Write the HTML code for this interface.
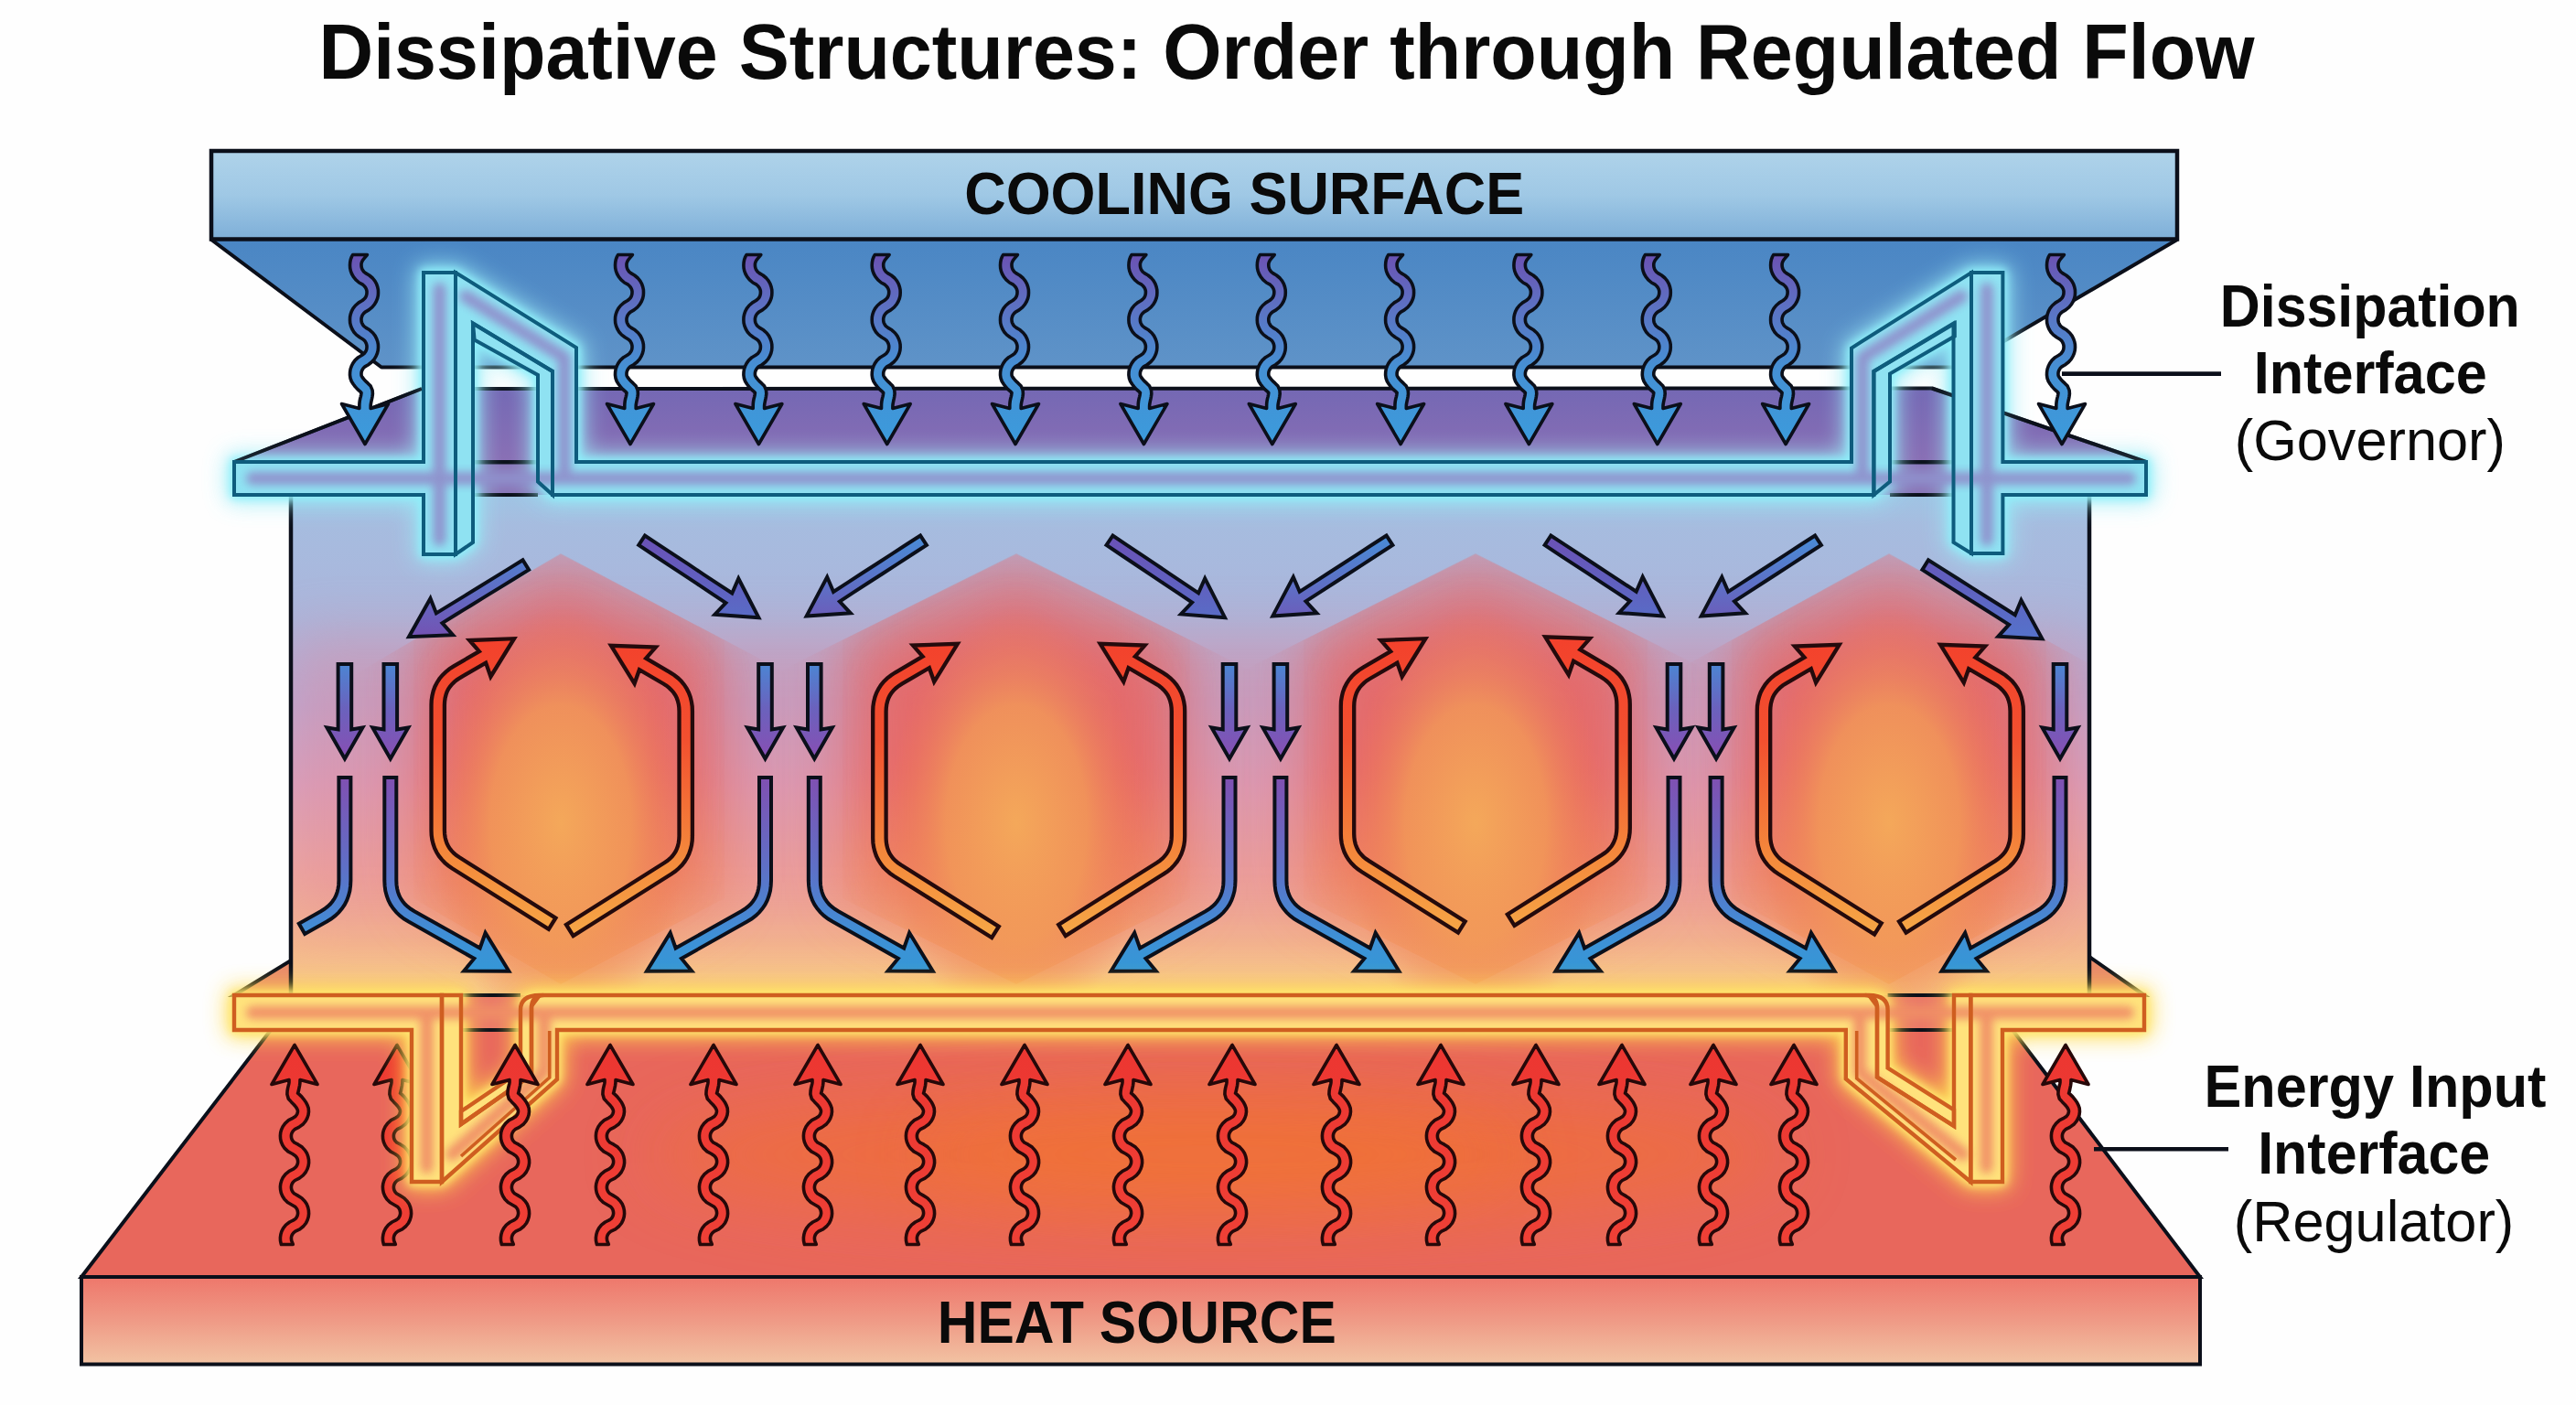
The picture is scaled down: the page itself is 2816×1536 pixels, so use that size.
<!DOCTYPE html>
<html><head><meta charset="utf-8"><title>Dissipative Structures</title>
<style>html,body{margin:0;padding:0;background:#fefefe}svg{display:block}text{font-family:"Liberation Sans",sans-serif;fill:#0a0a0a}</style></head>
<body><svg width="2816" height="1536" viewBox="0 0 2816 1536">
<defs>
<linearGradient id="gSlab" x1="0" y1="0" x2="0" y2="1"><stop offset="0" stop-color="#afd3ea"/><stop offset=".5" stop-color="#9fc8e5"/><stop offset="1" stop-color="#7eafd8"/></linearGradient>
<linearGradient id="gUnder" x1="0" y1="0" x2="0" y2="1"><stop offset="0" stop-color="#4a86c4"/><stop offset="1" stop-color="#5f93c8"/></linearGradient>
<linearGradient id="gPurp" x1="0" y1="0" x2="0" y2="1"><stop offset="0" stop-color="#7468b4"/><stop offset="1" stop-color="#8a6eb4"/></linearGradient>
<linearGradient id="gBody" x1="0" y1="541" x2="0" y2="1088" gradientUnits="userSpaceOnUse">
 <stop offset="0" stop-color="#9fc4e4"/><stop offset=".06" stop-color="#a6bcdf"/><stop offset=".25" stop-color="#abb5db"/><stop offset=".42" stop-color="#bba7d2"/><stop offset=".58" stop-color="#d6a2c0"/><stop offset=".75" stop-color="#eaa8a4"/><stop offset=".9" stop-color="#f4b88e"/><stop offset="1" stop-color="#f8cc86"/></linearGradient>
<linearGradient id="gHeatTop" x1="0" y1="0" x2="1" y2="0"><stop offset="0" stop-color="#e8685e"/><stop offset=".3" stop-color="#eb6650"/><stop offset=".55" stop-color="#ee6943"/><stop offset=".8" stop-color="#ea6652"/><stop offset="1" stop-color="#e8685e"/></linearGradient>
<linearGradient id="gHeatFront" x1="0" y1="0" x2="0" y2="1"><stop offset="0" stop-color="#ee776b"/><stop offset=".5" stop-color="#ef9a86"/><stop offset="1" stop-color="#f2c3a3"/></linearGradient>
<linearGradient id="gCool" x1="0" y1="278" x2="0" y2="486" gradientUnits="userSpaceOnUse"><stop offset="0" stop-color="#6b52b3"/><stop offset=".3" stop-color="#5b74c4"/><stop offset=".6" stop-color="#4590d4"/><stop offset="1" stop-color="#3b9bdc"/></linearGradient>
<linearGradient id="gHot" x1="0" y1="1140" x2="0" y2="1361" gradientUnits="userSpaceOnUse"><stop offset="0" stop-color="#ec3631"/><stop offset="1" stop-color="#ef4036"/></linearGradient>
<linearGradient id="gVert" x1="0" y1="725" x2="0" y2="833" gradientUnits="userSpaceOnUse"><stop offset="0" stop-color="#4b86d4"/><stop offset=".45" stop-color="#6a62bd"/><stop offset="1" stop-color="#8a4db3"/></linearGradient>
<linearGradient id="gLow" x1="0" y1="850" x2="0" y2="1064" gradientUnits="userSpaceOnUse"><stop offset="0" stop-color="#8050b2"/><stop offset=".45" stop-color="#5f6fc6"/><stop offset=".8" stop-color="#3f8fd6"/><stop offset="1" stop-color="#3498d6"/></linearGradient>
<linearGradient id="gRed" x1="0" y1="696" x2="0" y2="1020" gradientUnits="userSpaceOnUse"><stop offset="0" stop-color="#f3412c"/><stop offset=".35" stop-color="#f2502f"/><stop offset=".75" stop-color="#f48a3c"/><stop offset="1" stop-color="#f6a646"/></linearGradient>
<linearGradient id="gDiagL" x1="0" y1="590" x2="0" y2="700" gradientUnits="userSpaceOnUse"><stop offset="0" stop-color="#4a8ad6"/><stop offset="1" stop-color="#7550b2"/></linearGradient>
<linearGradient id="gDiagR" x1="0" y1="590" x2="0" y2="700" gradientUnits="userSpaceOnUse"><stop offset="0" stop-color="#6a52b6"/><stop offset="1" stop-color="#5473cb"/></linearGradient>
<linearGradient id="gHex" x1="0" y1="606" x2="0" y2="1076" gradientUnits="userSpaceOnUse"><stop offset="0" stop-color="#e47c8a" stop-opacity=".52"/><stop offset=".2" stop-color="#e66a66" stop-opacity=".6"/><stop offset=".5" stop-color="#ea655c" stop-opacity=".6"/><stop offset=".8" stop-color="#f08050" stop-opacity=".7"/><stop offset="1" stop-color="#f6a04e" stop-opacity=".95"/></linearGradient>
<linearGradient id="gHexG" x1="0" y1="606" x2="0" y2="1076" gradientUnits="userSpaceOnUse"><stop offset="0" stop-color="#e4686c"/><stop offset=".5" stop-color="#ea625a"/><stop offset=".75" stop-color="#f07e56"/><stop offset="1" stop-color="#f49a58"/></linearGradient>
<radialGradient id="gCore" cx=".5" cy=".5" r=".5"><stop offset="0" stop-color="#f4a85a"/><stop offset=".55" stop-color="#f29a58" stop-opacity=".8"/><stop offset="1" stop-color="#ee7a5c" stop-opacity="0"/></radialGradient>
<filter id="b2" x="-10%" y="-10%" width="120%" height="120%"><feGaussianBlur stdDeviation="1.6"/></filter>
<filter id="b3" x="-20%" y="-20%" width="140%" height="140%"><feGaussianBlur stdDeviation="3"/></filter>
<filter id="b5" x="-20%" y="-50%" width="140%" height="200%"><feGaussianBlur stdDeviation="5"/></filter>
<filter id="b8" x="-20%" y="-20%" width="140%" height="140%"><feGaussianBlur stdDeviation="8"/></filter>
<filter id="b12" x="-20%" y="-50%" width="140%" height="200%"><feGaussianBlur stdDeviation="12"/></filter>
<filter id="b30" x="-30%" y="-30%" width="160%" height="160%"><feGaussianBlur stdDeviation="30"/></filter>
<filter id="b40" x="-30%" y="-150%" width="160%" height="400%"><feGaussianBlur stdDeviation="40"/></filter>
<filter id="b20" x="-30%" y="-30%" width="160%" height="160%"><feGaussianBlur stdDeviation="20"/></filter>
<clipPath id="cBody"><rect x="318" y="541" width="1966" height="547"/></clipPath>
<clipPath id="cHeat"><path d="M296,1126 L2200,1126 L2405,1396 L89,1396Z"/></clipPath>
<clipPath id="r613"><path d="M613,605 L862,736.8 L862,1095 L382,1095 L382,740.9Z"/></clipPath>
<linearGradient id="gm613" x1="452" y1="0" x2="792" y2="0" gradientUnits="userSpaceOnUse"><stop offset="0" stop-color="#fff" stop-opacity=".15"/><stop offset=".22" stop-color="#fff" stop-opacity="1"/><stop offset=".78" stop-color="#fff" stop-opacity="1"/><stop offset="1" stop-color="#fff" stop-opacity=".15"/></linearGradient><mask id="m613" maskUnits="userSpaceOnUse" x="442" y="590" width="360" height="500"><rect x="442" y="590" width="360" height="500" fill="url(#gm613)"/></mask>
<clipPath id="r1111"><path d="M1111,605 L1371,734.6 L1371,1095 L851,1095 L851,734.6Z"/></clipPath>
<linearGradient id="gm1111" x1="921" y1="0" x2="1301" y2="0" gradientUnits="userSpaceOnUse"><stop offset="0" stop-color="#fff" stop-opacity=".15"/><stop offset=".22" stop-color="#fff" stop-opacity="1"/><stop offset=".78" stop-color="#fff" stop-opacity="1"/><stop offset="1" stop-color="#fff" stop-opacity=".15"/></linearGradient><mask id="m1111" maskUnits="userSpaceOnUse" x="911" y="590" width="400" height="500"><rect x="911" y="590" width="400" height="500" fill="url(#gm1111)"/></mask>
<clipPath id="r1613"><path d="M1613,605 L1871,735 L1871,1095 L1355,1095 L1355,735Z"/></clipPath>
<linearGradient id="gm1613" x1="1425" y1="0" x2="1801" y2="0" gradientUnits="userSpaceOnUse"><stop offset="0" stop-color="#fff" stop-opacity=".15"/><stop offset=".22" stop-color="#fff" stop-opacity="1"/><stop offset=".78" stop-color="#fff" stop-opacity="1"/><stop offset="1" stop-color="#fff" stop-opacity=".15"/></linearGradient><mask id="m1613" maskUnits="userSpaceOnUse" x="1415" y="590" width="396" height="500"><rect x="1415" y="590" width="396" height="500" fill="url(#gm1613)"/></mask>
<clipPath id="r2065"><path d="M2065,605 L2307,738.3 L2307,1095 L1823,1095 L1823,738.3Z"/></clipPath>
<linearGradient id="gm2065" x1="1893" y1="0" x2="2237" y2="0" gradientUnits="userSpaceOnUse"><stop offset="0" stop-color="#fff" stop-opacity=".15"/><stop offset=".22" stop-color="#fff" stop-opacity="1"/><stop offset=".78" stop-color="#fff" stop-opacity="1"/><stop offset="1" stop-color="#fff" stop-opacity=".15"/></linearGradient><mask id="m2065" maskUnits="userSpaceOnUse" x="1883" y="590" width="364" height="500"><rect x="1883" y="590" width="364" height="500" fill="url(#gm2065)"/></mask>
<path id="wc" d="M-11.4,278.5 L-12.5,280.5 L-13.7,283.7 L-14.3,286.8 L-14.5,290 L-14.3,293.2 L-13.6,296.4 L-12.4,299.5 L-10.6,302.7 L-8,305.9 L-4.4,309 L-0.4,311.2 L1.3,312.8 L2.4,314.2 L3.2,315.6 L3.7,317 L4,318.4 L4,319.8 L3.9,321.3 L3.6,322.7 L3.1,324.1 L2.3,325.5 L1.1,326.9 L-0.9,328.5 L-4.9,330.9 L-8.5,334 L-11,337.2 L-12.7,340.4 L-13.8,343.6 L-14.4,346.7 L-14.5,349.9 L-14.3,353.1 L-13.5,356.3 L-12.2,359.5 L-10.4,362.7 L-7.6,365.9 L-3.8,368.8 L-0.1,371 L1.5,372.4 L2.5,373.8 L3.3,375.3 L3.7,376.7 L4,378.1 L4,379.5 L3.9,380.9 L3.6,382.4 L3,383.8 L2.1,385.2 L1,386.6 L-1.3,388.3 L-5.4,390.7 L-8.9,393.9 L-11.2,397.1 L-12.8,400.3 L-13.9,403.5 L-14.4,406.7 L-14.5,410 L-14,413.5 L-12.7,417 L-10.8,420 L-8.6,422.9 L-6.1,425.6 L-3.5,427.9 L-2,429.3 L-2.1,429.4 L-2.1,430.1 L-2.3,431.6 L-2.7,433.6 L-3.3,435.9 L-3.8,438.5 L-4.1,441.3 L-4.2,444 L-4.2,446.4 L-4.2,446.5 L-23.5,441.5 L2,485.5 L27.5,441.5 L8.2,446.5 L8.2,446.4 L8.2,444.2 L8.3,442.3 L8.6,440.5 L9,438.5 L9.5,436.2 L10,433.6 L10.4,430.5 L10.1,426.6 L8.2,422.1 L5.1,418.9 L2.6,416.6 L0.9,414.7 L-0.5,413 L-1.5,411.4 L-1.9,410.3 L-2,409.2 L-2,407.9 L-1.8,406.5 L-1.3,405.1 L-0.6,403.7 L0.4,402.3 L1.9,400.9 L5.6,398.7 L9.4,395.8 L12.2,392.6 L14.1,389.4 L15.4,386.2 L16.2,383.1 L16.5,379.9 L16.4,376.7 L15.8,373.5 L14.7,370.3 L13.1,367.2 L10.7,364 L7.2,360.8 L3.1,358.4 L0.9,356.7 L-0.2,355.3 L-1,353.9 L-1.6,352.5 L-1.9,351.1 L-2,349.7 L-2,348.3 L-1.7,346.8 L-1.2,345.4 L-0.5,344 L0.6,342.6 L2.2,341.1 L6.1,338.9 L9.8,335.9 L12.5,332.7 L14.3,329.5 L15.6,326.3 L16.3,323.1 L16.5,320 L16.4,316.8 L15.7,313.6 L14.6,310.4 L12.8,307.2 L10.3,304 L6.7,301 L2.7,298.6 L0.8,297.1 L-0.3,295.7 L-1.1,294.3 L-1.6,292.8 L-1.9,291.4 L-2,290 L-2,288.6 L-1.7,287.1 L-1.1,285.7 L-0.4,284.3 L1.2,282.4 L4.4,278.5Z" fill="url(#gCool)" stroke="#0b0f1a" stroke-width="3.6" stroke-linejoin="round"/>
<path id="wh" d="M-0.7,1360.5 L-1.5,1358.4 L-2.3,1356.4 L-2.5,1355 L-2.6,1353.5 L-2.4,1352.1 L-2,1350.7 L-1.2,1349.2 L-0.2,1347.8 L1.8,1346.2 L6.7,1343.8 L10.8,1340.5 L13.5,1337.1 L15.2,1333.6 L16.2,1330.2 L16.6,1326.8 L16.4,1323.4 L15.7,1320 L14.4,1316.6 L12.2,1313.2 L8.8,1309.7 L4.2,1306.9 L0.5,1304.8 L-0.8,1303.4 L-1.6,1302 L-2.2,1300.6 L-2.5,1299.2 L-2.6,1297.7 L-2.4,1296.3 L-2,1294.8 L-1.3,1293.4 L-0.3,1292 L1.4,1290.5 L6.2,1288.1 L10.4,1284.9 L13.2,1281.5 L15,1278 L16.1,1274.6 L16.6,1271.2 L16.5,1267.8 L15.8,1264.4 L14.6,1261 L12.5,1257.6 L9.3,1254.1 L4.9,1251.2 L0.7,1249 L-0.6,1247.6 L-1.6,1246.2 L-2.2,1244.8 L-2.5,1243.3 L-2.6,1241.9 L-2.5,1240.4 L-2.1,1239 L-1.4,1237.6 L-0.5,1236.2 L1.1,1234.7 L5.7,1232.4 L10,1229.3 L12.9,1225.9 L14.8,1222.5 L16,1219 L16.5,1215.3 L16.2,1211.4 L14.9,1207.9 L13.2,1204.7 L11.1,1201.8 L8.7,1198.9 L6.1,1196.4 L4.6,1195.1 L4.8,1195.2 L4.9,1194.2 L5.4,1192.3 L5.9,1189.9 L6.5,1187.1 L6.9,1184.2 L7,1181.4 L7,1180.5 L26,1185.5 L1,1142.5 L-24,1185.5 L-5,1180.5 L-5,1181.1 L-5,1183.2 L-5.3,1185.1 L-5.8,1187.2 L-6.4,1189.6 L-6.9,1192.6 L-7.1,1196.3 L-5.7,1201.3 L-2.4,1204.9 L-0.1,1207.2 L1.7,1209.2 L3.1,1211.1 L4,1212.8 L4.4,1214 L4.5,1215 L4.3,1216.2 L3.9,1217.6 L3.1,1219 L2,1220.4 L-0.5,1222.1 L-5.5,1224.7 L-9.3,1228.1 L-11.8,1231.5 L-13.4,1234.9 L-14.3,1238.3 L-14.6,1241.7 L-14.4,1245.1 L-13.6,1248.5 L-12.1,1252 L-9.8,1255.4 L-6.1,1258.9 L-1.2,1261.5 L1.7,1263.4 L2.9,1264.8 L3.8,1266.2 L4.3,1267.6 L4.6,1269.1 L4.6,1270.5 L4.4,1272 L3.9,1273.4 L3.2,1274.8 L2.1,1276.2 L0,1277.9 L-4.9,1280.3 L-8.9,1283.7 L-11.6,1287.1 L-13.2,1290.5 L-14.2,1293.9 L-14.6,1297.3 L-14.4,1300.7 L-13.7,1304.1 L-12.3,1307.5 L-10.1,1311 L-6.6,1314.5 L-1.9,1317.2 L1.6,1319.3 L2.8,1320.6 L3.7,1322 L4.2,1323.5 L4.5,1324.9 L4.6,1326.4 L4.4,1327.8 L4,1329.2 L3.3,1330.7 L2.3,1332.1 L0.4,1333.6 L-4.4,1336 L-8.5,1339.2 L-11.3,1342.7 L-13.1,1346.1 L-14.1,1349.5 L-14.6,1352.9 L-14.5,1356.3 L-13.8,1359.7 L-13.5,1360.5Z" fill="url(#gHot)" stroke="#260809" stroke-width="3.6" stroke-linejoin="round"/>
</defs>
<rect width="2816" height="1536" fill="#fefefe"/>
<path d="M296,1126 L2200,1126 L2405,1396 L89,1396Z" fill="#e8675c"/>
<g clip-path="url(#cHeat)"><ellipse cx="1330" cy="1262" rx="620" ry="70" fill="#f2722f" opacity=".6" filter="url(#b40)"/><ellipse cx="1330" cy="1262" rx="330" ry="50" fill="#f47a2c" opacity=".35" filter="url(#b40)"/></g>
<path d="M296,1126 L2200,1126 L2405,1396 L89,1396Z" fill="none" stroke="#0b0f1a" stroke-width="4" stroke-linejoin="miter"/>
<rect x="89" y="1396" width="2316" height="95.5" fill="url(#gHeatFront)" stroke="#0b0f1a" stroke-width="4"/>
<path d="M256,1088 L318,1050 L318,1088Z" fill="#e98a6a" stroke="#0b0f1a" stroke-width="4"/>
<path d="M2344,1088 L2284,1046 L2284,1088Z" fill="#e98a6a" stroke="#0b0f1a" stroke-width="4"/>
<path d="M231,262 L2380,262 L2142,401.5 L417,401.5Z" fill="url(#gUnder)"/>
<path d="M231,262L417,401.5H2142L2380,262" fill="none" stroke="#0b0f1a" stroke-width="4" stroke-linejoin="bevel"/>
<rect x="231" y="165" width="2149" height="96.5" fill="url(#gSlab)" stroke="#0b0f1a" stroke-width="4.5"/>
<path d="M256,505 L461,425 L2112,424.5 L2346,505Z" fill="url(#gPurp)" stroke="#0b0f1a" stroke-width="4"/>
<rect x="318" y="541" width="1966" height="547" fill="url(#gBody)"/>
<g clip-path="url(#cBody)">
<rect x="318" y="690" width="1966" height="330" fill="#e8808a" opacity=".30" filter="url(#b30)"/>
<g clip-path="url(#r613)"><path d="M613,606 L792,700 L792,982 L613,1076 L452,982 L452,700Z" fill="url(#gHexG)" opacity=".62" filter="url(#b30)"/></g>
<g mask="url(#m613)"><path d="M613,606 L792,700 L792,982 L613,1076 L452,982 L452,700Z" fill="url(#gHex)" opacity=".5"/></g>
<path d="M613,666 L747,735 L747,962 L613,1036 L497,962 L497,735Z" fill="url(#gHexG)" opacity=".55" filter="url(#b20)"/>
<ellipse cx="613" cy="900" rx="140" ry="235" fill="url(#gCore)"/>
<g clip-path="url(#r1111)"><path d="M1111,606 L1301,700 L1301,982 L1111,1076 L921,982 L921,700Z" fill="url(#gHexG)" opacity=".62" filter="url(#b30)"/></g>
<g mask="url(#m1111)"><path d="M1111,606 L1301,700 L1301,982 L1111,1076 L921,982 L921,700Z" fill="url(#gHex)" opacity=".5"/></g>
<path d="M1111,666 L1256,735 L1256,962 L1111,1036 L966,962 L966,735Z" fill="url(#gHexG)" opacity=".55" filter="url(#b20)"/>
<ellipse cx="1111" cy="900" rx="140" ry="235" fill="url(#gCore)"/>
<g clip-path="url(#r1613)"><path d="M1613,606 L1801,700 L1801,982 L1613,1076 L1425,982 L1425,700Z" fill="url(#gHexG)" opacity=".62" filter="url(#b30)"/></g>
<g mask="url(#m1613)"><path d="M1613,606 L1801,700 L1801,982 L1613,1076 L1425,982 L1425,700Z" fill="url(#gHex)" opacity=".5"/></g>
<path d="M1613,666 L1756,735 L1756,962 L1613,1036 L1470,962 L1470,735Z" fill="url(#gHexG)" opacity=".55" filter="url(#b20)"/>
<ellipse cx="1613" cy="900" rx="140" ry="235" fill="url(#gCore)"/>
<g clip-path="url(#r2065)"><path d="M2065,606 L2237,700 L2237,982 L2065,1076 L1893,982 L1893,700Z" fill="url(#gHexG)" opacity=".62" filter="url(#b30)"/></g>
<g mask="url(#m2065)"><path d="M2065,606 L2237,700 L2237,982 L2065,1076 L1893,982 L1893,700Z" fill="url(#gHex)" opacity=".5"/></g>
<path d="M2065,666 L2192,735 L2192,962 L2065,1036 L1938,962 L1938,735Z" fill="url(#gHexG)" opacity=".55" filter="url(#b20)"/>
<ellipse cx="2065" cy="900" rx="140" ry="235" fill="url(#gCore)"/>
</g>
<path d="M318,541V1088M2284,541V1088" stroke="#0b0f1a" stroke-width="4.5" fill="none"/>
<g clip-path="url(#cBody)">
<path d="M369.6,726 L369.6,738.9 L369.6,751.9 L369.6,764.8 L369.6,777.8 L369.6,790.7 L369.6,797.5 L357.4,795.5 L376.9,829.5 L396.4,795.5 L384.2,797.5 L384.2,790.7 L384.2,777.8 L384.2,764.8 L384.2,751.9 L384.2,738.9 L384.2,726Z" fill="url(#gVert)" stroke="#0b0f1a" stroke-width="4" stroke-linejoin="miter"/>
<path d="M419.5,726 L419.5,738.9 L419.5,751.9 L419.5,764.8 L419.5,777.8 L419.5,790.7 L419.5,797.5 L407.3,795.5 L426.8,829.5 L446.3,795.5 L434.1,797.5 L434.1,790.7 L434.1,777.8 L434.1,764.8 L434.1,751.9 L434.1,738.9 L434.1,726Z" fill="url(#gVert)" stroke="#0b0f1a" stroke-width="4" stroke-linejoin="miter"/>
<path d="M829.2,726 L829.2,738.9 L829.2,751.9 L829.2,764.8 L829.2,777.8 L829.2,790.7 L829.2,797.5 L817,795.5 L836.5,829.5 L856,795.5 L843.8,797.5 L843.8,790.7 L843.8,777.8 L843.8,764.8 L843.8,751.9 L843.8,738.9 L843.8,726Z" fill="url(#gVert)" stroke="#0b0f1a" stroke-width="4" stroke-linejoin="miter"/>
<path d="M883,726 L883,738.9 L883,751.9 L883,764.8 L883,777.8 L883,790.7 L883,797.5 L870.8,795.5 L890.3,829.5 L909.8,795.5 L897.6,797.5 L897.6,790.7 L897.6,777.8 L897.6,764.8 L897.6,751.9 L897.6,738.9 L897.6,726Z" fill="url(#gVert)" stroke="#0b0f1a" stroke-width="4" stroke-linejoin="miter"/>
<path d="M1336.7,726 L1336.7,738.9 L1336.7,751.9 L1336.7,764.8 L1336.7,777.8 L1336.7,790.7 L1336.7,797.5 L1324.5,795.5 L1344,829.5 L1363.5,795.5 L1351.3,797.5 L1351.3,790.7 L1351.3,777.8 L1351.3,764.8 L1351.3,751.9 L1351.3,738.9 L1351.3,726Z" fill="url(#gVert)" stroke="#0b0f1a" stroke-width="4" stroke-linejoin="miter"/>
<path d="M1392.6,726 L1392.6,738.9 L1392.6,751.9 L1392.6,764.8 L1392.6,777.8 L1392.6,790.7 L1392.6,797.5 L1380.4,795.5 L1399.9,829.5 L1419.4,795.5 L1407.2,797.5 L1407.2,790.7 L1407.2,777.8 L1407.2,764.8 L1407.2,751.9 L1407.2,738.9 L1407.2,726Z" fill="url(#gVert)" stroke="#0b0f1a" stroke-width="4" stroke-linejoin="miter"/>
<path d="M1822.7,726 L1822.7,738.9 L1822.7,751.9 L1822.7,764.8 L1822.7,777.8 L1822.7,790.7 L1822.7,797.5 L1810.5,795.5 L1830,829.5 L1849.5,795.5 L1837.3,797.5 L1837.3,790.7 L1837.3,777.8 L1837.3,764.8 L1837.3,751.9 L1837.3,738.9 L1837.3,726Z" fill="url(#gVert)" stroke="#0b0f1a" stroke-width="4" stroke-linejoin="miter"/>
<path d="M1868.8,726 L1868.8,738.9 L1868.8,751.9 L1868.8,764.8 L1868.8,777.8 L1868.8,790.7 L1868.8,797.5 L1856.6,795.5 L1876.1,829.5 L1895.6,795.5 L1883.4,797.5 L1883.4,790.7 L1883.4,777.8 L1883.4,764.8 L1883.4,751.9 L1883.4,738.9 L1883.4,726Z" fill="url(#gVert)" stroke="#0b0f1a" stroke-width="4" stroke-linejoin="miter"/>
<path d="M2244.7,726 L2244.7,738.9 L2244.7,751.9 L2244.7,764.8 L2244.7,777.8 L2244.7,790.7 L2244.7,797.5 L2232.5,795.5 L2252,829.5 L2271.5,795.5 L2259.3,797.5 L2259.3,790.7 L2259.3,777.8 L2259.3,764.8 L2259.3,751.9 L2259.3,738.9 L2259.3,726Z" fill="url(#gVert)" stroke="#0b0f1a" stroke-width="4" stroke-linejoin="miter"/>
<path d="M571.5,612.3 L555.5,622.1 L539.6,631.9 L523.6,641.7 L507.6,651.6 L491.6,661.4 L476.9,670.4 L470.5,654.2 L447,696.2 L495.1,694.2 L483.5,681.1 L498.2,672 L514.2,662.2 L530.1,652.4 L546.1,642.6 L562.1,632.7 L578.1,622.9Z" fill="url(#gDiagL)" stroke="#0b0f1a" stroke-width="4" stroke-linejoin="miter"/>
<path d="M698.2,595.9 L714.1,606.5 L730.1,617.1 L746.1,627.6 L762,638.2 L778,648.8 L793.4,659 L781.4,671.7 L829.4,675.3 L807.3,632.5 L800.3,648.5 L784.9,638.3 L768.9,627.8 L753,617.2 L737,606.6 L721,596.1 L705,585.5Z" fill="url(#gDiagR)" stroke="#0b0f1a" stroke-width="4" stroke-linejoin="miter"/>
<path d="M1006.1,585.5 L990.1,595.8 L974.2,606.1 L958.2,616.5 L942.2,626.8 L926.3,637.1 L911.1,647 L904.2,630.8 L881.7,673.4 L929.8,670.3 L917.9,657.5 L933,647.6 L949,637.3 L965,627 L981,616.6 L996.9,606.3 L1012.9,595.9Z" fill="url(#gDiagL)" stroke="#0b0f1a" stroke-width="4" stroke-linejoin="miter"/>
<path d="M1209.5,595.9 L1225.3,606.5 L1241,617 L1256.8,627.6 L1272.5,638.2 L1288.3,648.7 L1303.1,658.7 L1291,671.4 L1339,675.2 L1317.2,632.3 L1310.1,648.3 L1295.2,638.4 L1279.5,627.8 L1263.7,617.2 L1248,606.6 L1232.2,596.1 L1216.5,585.5Z" fill="url(#gDiagR)" stroke="#0b0f1a" stroke-width="4" stroke-linejoin="miter"/>
<path d="M1515.6,585.5 L1499.6,595.8 L1483.7,606.1 L1467.7,616.5 L1451.8,626.8 L1435.8,637.1 L1420.7,646.9 L1413.8,630.8 L1391.3,673.4 L1439.4,670.3 L1427.5,657.4 L1442.6,647.6 L1458.6,637.3 L1474.5,627 L1490.5,616.6 L1506.4,606.3 L1522.4,595.9Z" fill="url(#gDiagL)" stroke="#0b0f1a" stroke-width="4" stroke-linejoin="miter"/>
<path d="M1688.6,595.9 L1704.3,606.3 L1720,616.6 L1735.8,626.9 L1751.5,637.3 L1767.2,647.6 L1781.8,657.2 L1769.9,670 L1817.9,673.4 L1795.7,630.7 L1788.7,646.7 L1774.1,637.2 L1758.4,626.8 L1742.6,616.5 L1726.9,606.1 L1711.2,595.8 L1695.4,585.5Z" fill="url(#gDiagR)" stroke="#0b0f1a" stroke-width="4" stroke-linejoin="miter"/>
<path d="M1984.1,585.5 L1968.1,595.8 L1952.2,606.1 L1936.2,616.5 L1920.3,626.8 L1904.3,637.1 L1889.2,646.9 L1882.3,630.8 L1859.8,673.4 L1907.9,670.3 L1896,657.4 L1911.1,647.6 L1927.1,637.3 L1943,627 L1959,616.6 L1974.9,606.3 L1990.9,595.9Z" fill="url(#gDiagL)" stroke="#0b0f1a" stroke-width="4" stroke-linejoin="miter"/>
<path d="M2101.4,622.9 L2117.3,633 L2133.3,643.1 L2149.3,653.2 L2165.2,663.3 L2181.2,673.4 L2196.1,682.9 L2184.4,695.8 L2232.4,698.4 L2209.5,656.1 L2202.8,672.3 L2187.9,662.8 L2171.9,652.7 L2155.9,642.6 L2140,632.5 L2124,622.4 L2108,612.3Z" fill="url(#gDiagR)" stroke="#0b0f1a" stroke-width="4" stroke-linejoin="miter"/>
<path d="M370.4,850 L370.4,962.6 L370.2,967.2 L369.6,971.4 L368.6,975.3 L367.3,979 L365.6,982.3 L363.4,985.5 L360.9,988.5 L358,991.2 L354.6,993.8 L350.7,996.2 L326.8,1009.7 L333.2,1021 L357.2,1007.5 L362,1004.5 L366.4,1001.1 L370.4,997.4 L373.8,993.3 L376.8,988.9 L379.2,984.2 L381,979.2 L382.4,973.9 L383.1,968.4 L383.4,962.7 L383.4,850Z" fill="url(#gLow)" stroke="#0b0f1a" stroke-width="4" stroke-linejoin="miter"/>
<path d="M420.3,850 L420.3,962.7 L420.6,968.4 L421.3,973.9 L422.7,979.2 L424.5,984.2 L426.9,988.9 L429.9,993.3 L433.3,997.4 L437.3,1001.1 L441.7,1004.5 L446.6,1007.5 L518.3,1047.9 L507.1,1061.6 L556.3,1061.8 L530.6,1019.8 L524.7,1036.5 L453,996.2 L449.1,993.8 L445.7,991.2 L442.8,988.5 L440.3,985.5 L438.1,982.3 L436.4,979 L435.1,975.3 L434.1,971.4 L433.5,967.2 L433.3,962.6 L433.3,850Z" fill="url(#gLow)" stroke="#0b0f1a" stroke-width="4" stroke-linejoin="miter"/>
<path d="M830,850 L830,962.6 L829.8,967.2 L829.2,971.4 L828.2,975.3 L826.9,979 L825.2,982.3 L823,985.5 L820.5,988.5 L817.6,991.2 L814.2,993.8 L810.3,996.2 L738.6,1036.5 L732.7,1019.8 L707,1061.8 L756.2,1061.6 L745,1047.9 L816.7,1007.5 L821.6,1004.5 L826,1001.1 L830,997.4 L833.4,993.3 L836.4,988.9 L838.8,984.2 L840.6,979.2 L842,973.9 L842.7,968.4 L843,962.7 L843,850Z" fill="url(#gLow)" stroke="#0b0f1a" stroke-width="4" stroke-linejoin="miter"/>
<path d="M883.8,850 L883.8,962.7 L884.1,968.4 L884.8,973.9 L886.2,979.2 L888,984.2 L890.4,988.9 L893.4,993.3 L896.8,997.4 L900.8,1001.1 L905.2,1004.5 L910.1,1007.5 L981.8,1047.9 L970.6,1061.6 L1019.8,1061.8 L994.1,1019.8 L988.2,1036.5 L916.5,996.2 L912.6,993.8 L909.2,991.2 L906.3,988.5 L903.8,985.5 L901.6,982.3 L899.9,979 L898.6,975.3 L897.6,971.4 L897,967.2 L896.8,962.6 L896.8,850Z" fill="url(#gLow)" stroke="#0b0f1a" stroke-width="4" stroke-linejoin="miter"/>
<path d="M1337.5,850 L1337.5,962.6 L1337.3,967.2 L1336.7,971.4 L1335.7,975.3 L1334.4,979 L1332.7,982.3 L1330.5,985.5 L1328,988.5 L1325.1,991.2 L1321.7,993.8 L1317.8,996.2 L1246.1,1036.5 L1240.2,1019.8 L1214.5,1061.8 L1263.7,1061.6 L1252.5,1047.9 L1324.2,1007.5 L1329.1,1004.5 L1333.5,1001.1 L1337.5,997.4 L1340.9,993.3 L1343.9,988.9 L1346.3,984.2 L1348.1,979.2 L1349.5,973.9 L1350.2,968.4 L1350.5,962.7 L1350.5,850Z" fill="url(#gLow)" stroke="#0b0f1a" stroke-width="4" stroke-linejoin="miter"/>
<path d="M1393.4,850 L1393.4,962.7 L1393.7,968.4 L1394.4,973.9 L1395.8,979.2 L1397.6,984.2 L1400,988.9 L1403,993.3 L1406.4,997.4 L1410.4,1001.1 L1414.8,1004.5 L1419.7,1007.5 L1491.4,1047.9 L1480.2,1061.6 L1529.4,1061.8 L1503.7,1019.8 L1497.8,1036.5 L1426.1,996.2 L1422.2,993.8 L1418.8,991.2 L1415.9,988.5 L1413.4,985.5 L1411.2,982.3 L1409.5,979 L1408.2,975.3 L1407.2,971.4 L1406.6,967.2 L1406.4,962.6 L1406.4,850Z" fill="url(#gLow)" stroke="#0b0f1a" stroke-width="4" stroke-linejoin="miter"/>
<path d="M1823.5,850 L1823.5,962.6 L1823.3,967.2 L1822.7,971.4 L1821.7,975.3 L1820.4,979 L1818.7,982.3 L1816.5,985.5 L1814,988.5 L1811.1,991.2 L1807.7,993.8 L1803.8,996.2 L1732.1,1036.5 L1726.2,1019.8 L1700.5,1061.8 L1749.7,1061.6 L1738.5,1047.9 L1810.2,1007.5 L1815.1,1004.5 L1819.5,1001.1 L1823.5,997.4 L1826.9,993.3 L1829.9,988.9 L1832.3,984.2 L1834.1,979.2 L1835.5,973.9 L1836.2,968.4 L1836.5,962.7 L1836.5,850Z" fill="url(#gLow)" stroke="#0b0f1a" stroke-width="4" stroke-linejoin="miter"/>
<path d="M1869.6,850 L1869.6,962.7 L1869.9,968.4 L1870.6,973.9 L1872,979.2 L1873.8,984.2 L1876.2,988.9 L1879.2,993.3 L1882.6,997.4 L1886.6,1001.1 L1891,1004.5 L1895.9,1007.5 L1967.6,1047.9 L1956.4,1061.6 L2005.6,1061.8 L1979.9,1019.8 L1974,1036.5 L1902.3,996.2 L1898.4,993.8 L1895,991.2 L1892.1,988.5 L1889.6,985.5 L1887.4,982.3 L1885.7,979 L1884.4,975.3 L1883.4,971.4 L1882.8,967.2 L1882.6,962.6 L1882.6,850Z" fill="url(#gLow)" stroke="#0b0f1a" stroke-width="4" stroke-linejoin="miter"/>
<path d="M2245.5,850 L2245.5,962.6 L2245.3,967.2 L2244.7,971.4 L2243.7,975.3 L2242.4,979 L2240.7,982.3 L2238.5,985.5 L2236,988.5 L2233.1,991.2 L2229.7,993.8 L2225.8,996.2 L2154.1,1036.5 L2148.2,1019.8 L2122.5,1061.8 L2171.7,1061.6 L2160.5,1047.9 L2232.2,1007.5 L2237.1,1004.5 L2241.5,1001.1 L2245.5,997.4 L2248.9,993.3 L2251.9,988.9 L2254.3,984.2 L2256.1,979.2 L2257.5,973.9 L2258.2,968.4 L2258.5,962.7 L2258.5,850Z" fill="url(#gLow)" stroke="#0b0f1a" stroke-width="4" stroke-linejoin="miter"/>
<path d="M607.4,1003.6 L502.2,937.3 L498.9,935.1 L496.1,932.7 L493.7,930.2 L491.6,927.6 L489.9,924.8 L488.5,921.9 L487.4,918.7 L486.6,915.4 L486.1,911.7 L485.9,907.8 L485.9,770.9 L486.1,766.9 L486.6,763.1 L487.5,759.6 L488.6,756.4 L490.1,753.4 L492,750.6 L494.2,747.9 L496.8,745.4 L499.7,743.1 L503.2,740.8 L531.1,724.6 L536.4,739.7 L562,698.2 L513.2,700 L523.8,712.1 L495.9,728.4 L491.4,731.3 L487.3,734.6 L483.6,738.1 L480.4,742 L477.7,746.2 L475.4,750.7 L473.7,755.4 L472.5,760.4 L471.7,765.6 L471.5,770.9 L471.5,907.8 L471.7,913 L472.4,918 L473.6,922.8 L475.2,927.4 L477.3,931.8 L479.9,935.9 L482.9,939.7 L486.4,943.3 L490.2,946.5 L494.5,949.5 L599.8,1015.8Z" fill="url(#gRed)" stroke="#240a0c" stroke-width="4.3" stroke-linejoin="miter"/>
<path d="M626.6,1023.1 L733.9,955.5 L738.2,952.6 L742,949.3 L745.5,945.8 L748.5,941.9 L751.1,937.8 L753.2,933.5 L754.8,928.8 L756,924 L756.7,919 L756.9,913.9 L756.9,777.6 L756.7,772.2 L755.9,767.1 L754.7,762.1 L753,757.4 L750.7,752.9 L748,748.7 L744.8,744.8 L741.1,741.2 L737,738 L732.5,735.1 L706.2,719.7 L716.8,707.6 L668,705.8 L693.6,747.3 L698.9,732.2 L725.2,747.5 L728.7,749.7 L731.6,752.1 L734.2,754.6 L736.4,757.2 L738.3,760 L739.8,763 L740.9,766.3 L741.8,769.8 L742.3,773.5 L742.5,777.6 L742.5,913.9 L742.3,917.8 L741.8,921.4 L741,924.8 L739.9,927.9 L738.5,930.9 L736.8,933.6 L734.7,936.3 L732.3,938.7 L729.5,941.1 L726.2,943.3 L619,1010.9Z" fill="url(#gRed)" stroke="#240a0c" stroke-width="4.3" stroke-linejoin="miter"/>
<path d="M1091.8,1012.9 L984.9,945.5 L981.6,943.3 L978.8,940.9 L976.4,938.5 L974.3,935.8 L972.6,933.1 L971.2,930.1 L970.1,927 L969.3,923.6 L968.8,920 L968.6,916.1 L968.6,777.7 L968.8,773.7 L969.3,769.9 L970.2,766.4 L971.3,763.2 L972.8,760.2 L974.7,757.4 L976.9,754.7 L979.5,752.2 L982.4,749.9 L985.9,747.7 L1015.9,730.2 L1021.2,745.3 L1046.8,703.8 L998,705.6 L1008.6,717.7 L978.6,735.3 L974.1,738.2 L970,741.4 L966.3,744.9 L963.1,748.8 L960.4,753 L958.1,757.5 L956.4,762.2 L955.2,767.2 L954.4,772.4 L954.2,777.7 L954.2,916.1 L954.4,921.2 L955.1,926.2 L956.3,931 L957.9,935.6 L960,940 L962.6,944.1 L965.6,948 L969.1,951.5 L972.9,954.7 L977.2,957.7 L1084.2,1025.1Z" fill="url(#gRed)" stroke="#240a0c" stroke-width="4.3" stroke-linejoin="miter"/>
<path d="M1164.8,1023.1 L1272.2,955.4 L1276.5,952.5 L1280.3,949.3 L1283.8,945.7 L1286.8,941.9 L1289.4,937.8 L1291.5,933.4 L1293.1,928.8 L1294.3,924 L1295,919 L1295.2,913.8 L1295.2,777.7 L1295,772.3 L1294.2,767.2 L1293,762.2 L1291.3,757.5 L1289,753 L1286.3,748.8 L1283.1,744.9 L1279.4,741.3 L1275.3,738.1 L1270.8,735.2 L1240.9,717.7 L1251.5,705.6 L1202.7,703.8 L1228.3,745.3 L1233.6,730.2 L1263.5,747.6 L1267,749.8 L1269.9,752.2 L1272.5,754.7 L1274.7,757.3 L1276.6,760.1 L1278.1,763.2 L1279.2,766.4 L1280.1,769.9 L1280.6,773.6 L1280.8,777.7 L1280.8,913.8 L1280.6,917.7 L1280.1,921.3 L1279.3,924.7 L1278.2,927.9 L1276.8,930.8 L1275.1,933.6 L1273,936.2 L1270.6,938.7 L1267.8,941 L1264.5,943.3 L1157.2,1010.9Z" fill="url(#gRed)" stroke="#240a0c" stroke-width="4.3" stroke-linejoin="miter"/>
<path d="M1601.6,1007.4 L1496.5,941.1 L1493.2,938.9 L1490.4,936.6 L1488,934.1 L1485.9,931.5 L1484.2,928.7 L1482.8,925.7 L1481.7,922.6 L1480.9,919.2 L1480.4,915.6 L1480.2,911.7 L1480.2,772.1 L1480.4,768 L1480.9,764.3 L1481.8,760.8 L1482.9,757.6 L1484.4,754.5 L1486.3,751.7 L1488.5,749.1 L1491.1,746.6 L1494,744.2 L1497.5,742 L1527.4,724.6 L1532.7,739.7 L1558.3,698.2 L1509.5,700 L1520.1,712.1 L1490.2,729.6 L1485.7,732.5 L1481.6,735.7 L1477.9,739.3 L1474.7,743.2 L1472,747.4 L1469.7,751.9 L1468,756.6 L1466.8,761.6 L1466,766.7 L1465.8,772.1 L1465.8,911.7 L1466,916.9 L1466.7,921.9 L1467.9,926.7 L1469.5,931.3 L1471.6,935.6 L1474.2,939.8 L1477.2,943.6 L1480.7,947.1 L1484.5,950.4 L1488.8,953.3 L1594,1019.6Z" fill="url(#gRed)" stroke="#240a0c" stroke-width="4.3" stroke-linejoin="miter"/>
<path d="M1655.5,1011.9 L1758.8,946.8 L1763.1,943.9 L1766.9,940.6 L1770.4,937.1 L1773.4,933.3 L1776,929.1 L1778.1,924.8 L1779.7,920.2 L1780.9,915.4 L1781.6,910.4 L1781.8,905.2 L1781.8,770.2 L1781.6,764.9 L1780.8,759.7 L1779.6,754.7 L1777.9,750 L1775.6,745.5 L1772.9,741.3 L1769.7,737.4 L1766,733.9 L1761.9,730.7 L1757.4,727.8 L1727.4,710.2 L1738,698.1 L1689.2,696.3 L1714.8,737.8 L1720.1,722.7 L1750.1,740.2 L1753.6,742.4 L1756.5,744.7 L1759.1,747.2 L1761.3,749.9 L1763.2,752.7 L1764.7,755.7 L1765.8,758.9 L1766.7,762.4 L1767.2,766.2 L1767.4,770.2 L1767.4,905.2 L1767.2,909.1 L1766.7,912.7 L1765.9,916.1 L1764.8,919.2 L1763.4,922.2 L1761.7,925 L1759.6,927.6 L1757.2,930.1 L1754.4,932.4 L1751.1,934.6 L1647.9,999.7Z" fill="url(#gRed)" stroke="#240a0c" stroke-width="4.3" stroke-linejoin="miter"/>
<path d="M2056.7,1009.3 L1951.5,943 L1948.2,940.8 L1945.4,938.4 L1943,935.9 L1940.9,933.3 L1939.2,930.5 L1937.8,927.6 L1936.7,924.4 L1935.9,921.1 L1935.4,917.4 L1935.2,913.5 L1935.2,777.2 L1935.4,773.1 L1935.9,769.3 L1936.8,765.9 L1937.9,762.6 L1939.4,759.6 L1941.3,756.8 L1943.5,754.2 L1946.1,751.7 L1949,749.3 L1952.5,747.1 L1979.8,731.2 L1985.1,746.3 L2010.7,704.8 L1961.9,706.6 L1972.5,718.7 L1945.2,734.7 L1940.7,737.6 L1936.6,740.8 L1932.9,744.4 L1929.7,748.3 L1927,752.5 L1924.7,756.9 L1923,761.7 L1921.8,766.6 L1921,771.8 L1920.8,777.1 L1920.8,913.5 L1921,918.7 L1921.7,923.7 L1922.9,928.5 L1924.5,933.1 L1926.6,937.5 L1929.2,941.6 L1932.2,945.4 L1935.7,949 L1939.5,952.2 L1943.8,955.2 L2049.1,1021.5Z" fill="url(#gRed)" stroke="#240a0c" stroke-width="4.3" stroke-linejoin="miter"/>
<path d="M2083.6,1019.6 L2188.9,953.3 L2193.2,950.3 L2197,947.1 L2200.5,943.5 L2203.5,939.7 L2206.1,935.6 L2208.2,931.2 L2209.8,926.6 L2211,921.8 L2211.7,916.8 L2211.9,911.6 L2211.9,777.6 L2211.7,772.3 L2210.9,767.1 L2209.7,762.1 L2208,757.4 L2205.7,752.9 L2203,748.7 L2199.8,744.8 L2196.1,741.3 L2192,738 L2187.5,735.2 L2159.4,718.7 L2170,706.6 L2121.2,704.8 L2146.8,746.3 L2152.1,731.2 L2180.2,747.6 L2183.7,749.8 L2186.6,752.1 L2189.2,754.6 L2191.4,757.3 L2193.3,760.1 L2194.8,763.1 L2195.9,766.3 L2196.8,769.8 L2197.3,773.6 L2197.5,777.6 L2197.5,911.6 L2197.3,915.5 L2196.8,919.2 L2196,922.5 L2194.9,925.7 L2193.5,928.6 L2191.8,931.4 L2189.7,934 L2187.3,936.5 L2184.5,938.9 L2181.2,941.1 L2076,1007.4Z" fill="url(#gRed)" stroke="#240a0c" stroke-width="4.3" stroke-linejoin="miter"/>
</g>
<path d="M517,505H604V541H517ZM2048,505H2135.5V541H2048Z" fill="#8a76b8"/>
<path d="M517,505.5H588M517,541H588M2066,505.5H2135.5M2066,541H2135.5" stroke="#0b0f1a" stroke-width="4" fill="none"/>
<g filter="url(#b12)" opacity=".85"><path d="M463,298H498V606H463V541H256V505H463Z" fill="#9aedf8" stroke="#9aedf8" stroke-width="18" stroke-linejoin="round"/><path d="M2155,298H2189.4V505H2346V541H2189.4V605H2155Z" fill="#9aedf8" stroke="#9aedf8" stroke-width="18" stroke-linejoin="round"/><path d="M498,298L630,380V505H2024V380.5L2155,298V605L2135.5,593V353.5L2048.4,406V541H604V406L517,353.5V593L498,606Z" fill="#9aedf8" stroke="#9aedf8" stroke-width="18" stroke-linejoin="round"/><path d="M517,353.5L604,406V541L588,526.5V410L518.6,371.5Z" fill="#9aedf8" stroke="#9aedf8" stroke-width="18" stroke-linejoin="round"/><path d="M2136.8,353.5L2048.4,406V541L2066,526.5V408.6L2136.8,367.6Z" fill="#9aedf8" stroke="#9aedf8" stroke-width="18" stroke-linejoin="round"/></g>
<g filter="url(#b5)"><path d="M463,298H498V606H463V541H256V505H463Z" fill="#8cf0fa" stroke="#8cf0fa" stroke-width="9" stroke-linejoin="round"/><path d="M2155,298H2189.4V505H2346V541H2189.4V605H2155Z" fill="#8cf0fa" stroke="#8cf0fa" stroke-width="9" stroke-linejoin="round"/><path d="M498,298L630,380V505H2024V380.5L2155,298V605L2135.5,593V353.5L2048.4,406V541H604V406L517,353.5V593L498,606Z" fill="#8cf0fa" stroke="#8cf0fa" stroke-width="9" stroke-linejoin="round"/><path d="M517,353.5L604,406V541L588,526.5V410L518.6,371.5Z" fill="#8cf0fa" stroke="#8cf0fa" stroke-width="9" stroke-linejoin="round"/><path d="M2136.8,353.5L2048.4,406V541L2066,526.5V408.6L2136.8,367.6Z" fill="#8cf0fa" stroke="#8cf0fa" stroke-width="9" stroke-linejoin="round"/></g>
<path d="M256,505L461,425M2112,424.5L2346,505" stroke="#0b0f1a" stroke-width="4" fill="none" opacity=".85"/>
<path d="M463,298H498V606H463V541H256V505H463Z" fill="#8fe2f2"/><path d="M2155,298H2189.4V505H2346V541H2189.4V605H2155Z" fill="#8fe2f2"/><path d="M498,298L630,380V505H2024V380.5L2155,298V605L2135.5,593V353.5L2048.4,406V541H604V406L517,353.5V593L498,606Z" fill="#8fe2f2"/><path d="M517,353.5L604,406V541L588,526.5V410L518.6,371.5Z" fill="#8fe2f2"/><path d="M2136.8,353.5L2048.4,406V541L2066,526.5V408.6L2136.8,367.6Z" fill="#8fe2f2"/>
<g filter="url(#b5)" fill="none" stroke="#8f90cc" stroke-width="14" stroke-linecap="round" stroke-linejoin="round" opacity=".95"><path d="M276,523H2328M480.5,316V590M2172,316V590M509,324L617,391V523M2144,324L2036,391V523"/></g>
<path d="M463,298H498V606H463V541H256V505H463Z" fill="none" stroke="#0e5c7d" stroke-width="4" stroke-linejoin="miter" stroke-miterlimit="2.5"/><path d="M2155,298H2189.4V505H2346V541H2189.4V605H2155Z" fill="none" stroke="#0e5c7d" stroke-width="4" stroke-linejoin="miter" stroke-miterlimit="2.5"/><path d="M498,298L630,380V505H2024V380.5L2155,298V605L2135.5,593V353.5L2048.4,406V541H604V406L517,353.5V593L498,606Z" fill="none" stroke="#0e5c7d" stroke-width="4" stroke-linejoin="miter" stroke-miterlimit="2.5"/><path d="M517,353.5L604,406V541L588,526.5V410L518.6,371.5Z" fill="none" stroke="#0e5c7d" stroke-width="4" stroke-linejoin="miter" stroke-miterlimit="2.5"/><path d="M2136.8,353.5L2048.4,406V541L2066,526.5V408.6L2136.8,367.6Z" fill="none" stroke="#0e5c7d" stroke-width="4" stroke-linejoin="miter" stroke-miterlimit="2.5"/>
<use href="#wh" x="433"/>
<path d="M504,1088H590V1127H504ZM2043,1088H2136V1127H2043Z" fill="#ea7a68"/>
<path d="M504,1088H569M504,1126H569M2063.6,1088H2136M2063.6,1126H2136" stroke="#0b0f1a" stroke-width="4" fill="none"/>
<g filter="url(#b12)" opacity=".95"><path d="M256,1088H483V1292H450V1126H256Z" fill="#ffdb4d" stroke="#ffdb4d" stroke-width="16" stroke-linejoin="round"/><path d="M2344,1088V1126H2189V1292H2154.3V1088Z" fill="#ffdb4d" stroke="#ffdb4d" stroke-width="16" stroke-linejoin="round"/><path d="M483,1088H504V1229L581,1175V1102Q581,1088 595,1088H2038Q2052,1088 2052,1102V1177.5L2136,1231V1088H2154.3V1292L2017.8,1179.5V1126H609V1180L483,1292Z" fill="#ffdb4d" stroke="#ffdb4d" stroke-width="16" stroke-linejoin="round"/><path d="M504,1215L569,1171V1104Q569,1088 590,1088L581,1100V1175L504,1229Z" fill="#ffdb4d" stroke="#ffdb4d" stroke-width="16" stroke-linejoin="round"/><path d="M2136,1213.4L2063.6,1167.5V1104Q2063.6,1088 2043,1088L2052,1100V1177.5L2136,1231Z" fill="#ffdb4d" stroke="#ffdb4d" stroke-width="16" stroke-linejoin="round"/></g>
<g filter="url(#b5)"><path d="M256,1088H483V1292H450V1126H256Z" fill="#ffe873" stroke="#ffe873" stroke-width="9" stroke-linejoin="round"/><path d="M2344,1088V1126H2189V1292H2154.3V1088Z" fill="#ffe873" stroke="#ffe873" stroke-width="9" stroke-linejoin="round"/><path d="M483,1088H504V1229L581,1175V1102Q581,1088 595,1088H2038Q2052,1088 2052,1102V1177.5L2136,1231V1088H2154.3V1292L2017.8,1179.5V1126H609V1180L483,1292Z" fill="#ffe873" stroke="#ffe873" stroke-width="9" stroke-linejoin="round"/><path d="M504,1215L569,1171V1104Q569,1088 590,1088L581,1100V1175L504,1229Z" fill="#ffe873" stroke="#ffe873" stroke-width="9" stroke-linejoin="round"/><path d="M2136,1213.4L2063.6,1167.5V1104Q2063.6,1088 2043,1088L2052,1100V1177.5L2136,1231Z" fill="#ffe873" stroke="#ffe873" stroke-width="9" stroke-linejoin="round"/></g>
<path d="M256,1088H483V1292H450V1126H256Z" fill="#ffe27c"/><path d="M2344,1088V1126H2189V1292H2154.3V1088Z" fill="#ffe27c"/><path d="M483,1088H504V1229L581,1175V1102Q581,1088 595,1088H2038Q2052,1088 2052,1102V1177.5L2136,1231V1088H2154.3V1292L2017.8,1179.5V1126H609V1180L483,1292Z" fill="#ffe27c"/><path d="M504,1215L569,1171V1104Q569,1088 590,1088L581,1100V1175L504,1229Z" fill="#ffe27c"/><path d="M2136,1213.4L2063.6,1167.5V1104Q2063.6,1088 2043,1088L2052,1100V1177.5L2136,1231Z" fill="#ffe27c"/>
<g filter="url(#b5)" fill="none" stroke="#f08e66" stroke-width="14" stroke-linecap="round" stroke-linejoin="round" opacity=".95"><path d="M276,1107H2326M466.5,1107V1276M2171.5,1107V1276M494,1262L595,1172V1107M2146,1262L2033,1172V1107"/></g>
<path d="M256,1088H483V1292H450V1126H256Z" fill="none" stroke="#cf5e20" stroke-width="4.4" stroke-linejoin="miter" stroke-miterlimit="2.5"/><path d="M2344,1088V1126H2189V1292H2154.3V1088Z" fill="none" stroke="#cf5e20" stroke-width="4.4" stroke-linejoin="miter" stroke-miterlimit="2.5"/><path d="M483,1088H504V1229L581,1175V1102Q581,1088 595,1088H2038Q2052,1088 2052,1102V1177.5L2136,1231V1088H2154.3V1292L2017.8,1179.5V1126H609V1180L483,1292Z" fill="none" stroke="#cf5e20" stroke-width="4.4" stroke-linejoin="miter" stroke-miterlimit="2.5"/><path d="M504,1215L569,1171V1104Q569,1088 590,1088L581,1100V1175L504,1229Z" fill="none" stroke="#cf5e20" stroke-width="4.4" stroke-linejoin="miter" stroke-miterlimit="2.5"/><path d="M2136,1213.4L2063.6,1167.5V1104Q2063.6,1088 2043,1088L2052,1100V1177.5L2136,1231Z" fill="none" stroke="#cf5e20" stroke-width="4.4" stroke-linejoin="miter" stroke-miterlimit="2.5"/>
<path d="M600.7,1127V1178L504,1264M2029.7,1127V1179L2138,1268" fill="none" stroke="#cf5e20" stroke-width="3.6"/>
<use href="#wc" x="397"/>
<use href="#wc" x="687"/>
<use href="#wc" x="827.4"/>
<use href="#wc" x="967.7"/>
<use href="#wc" x="1108"/>
<use href="#wc" x="1248.4"/>
<use href="#wc" x="1388.8"/>
<use href="#wc" x="1529.1"/>
<use href="#wc" x="1669.4"/>
<use href="#wc" x="1809.8"/>
<use href="#wc" x="1950.1"/>
<use href="#wc" x="2252"/>
<use href="#wh" x="321"/>
<use href="#wh" x="562"/>
<use href="#wh" x="666"/>
<use href="#wh" x="779"/>
<use href="#wh" x="893"/>
<use href="#wh" x="1005"/>
<use href="#wh" x="1119"/>
<use href="#wh" x="1232"/>
<use href="#wh" x="1346"/>
<use href="#wh" x="1460"/>
<use href="#wh" x="1574"/>
<use href="#wh" x="1678"/>
<use href="#wh" x="1772"/>
<use href="#wh" x="1872"/>
<use href="#wh" x="1960"/>
<use href="#wh" x="2257"/>
<text x="1406.5" y="86" font-size="86" font-weight="700" text-anchor="middle" textLength="2116" lengthAdjust="spacingAndGlyphs">Dissipative Structures: Order through Regulated Flow</text>
<text x="1360.2" y="234.4" font-size="65" font-weight="700" text-anchor="middle" textLength="612" lengthAdjust="spacingAndGlyphs">COOLING SURFACE</text>
<text x="1242.8" y="1468" font-size="64" font-weight="700" text-anchor="middle" textLength="436" lengthAdjust="spacingAndGlyphs">HEAT SOURCE</text>
<text x="2590.8" y="357" font-size="64" font-weight="700" text-anchor="middle" textLength="328" lengthAdjust="spacingAndGlyphs">Dissipation</text>
<text x="2591.2" y="430" font-size="64" font-weight="700" text-anchor="middle" textLength="255" lengthAdjust="spacingAndGlyphs">Interface</text>
<text x="2590.8" y="503.4" font-size="63" font-weight="400" text-anchor="middle" textLength="296" lengthAdjust="spacingAndGlyphs">(Governor)</text>
<text x="2596.5" y="1209.7" font-size="64" font-weight="700" text-anchor="middle" textLength="374" lengthAdjust="spacingAndGlyphs">Energy Input</text>
<text x="2595.2" y="1283.3" font-size="64" font-weight="700" text-anchor="middle" textLength="254" lengthAdjust="spacingAndGlyphs">Interface</text>
<text x="2595" y="1356.5" font-size="63" font-weight="400" text-anchor="middle" textLength="306.5" lengthAdjust="spacingAndGlyphs">(Regulator)</text>
<path d="M2254,408.6H2428M2289,1256.2H2436" stroke="#0b0f1a" stroke-width="4.6" fill="none"/>
</svg></body></html>
